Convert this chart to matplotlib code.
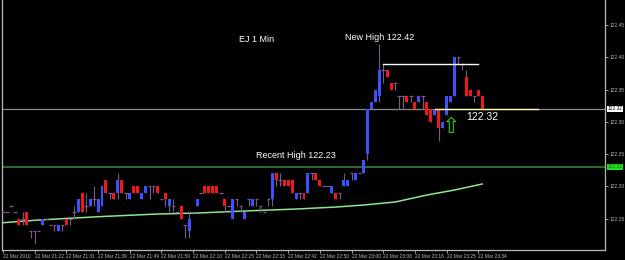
import matplotlib
matplotlib.use("Agg")
import matplotlib.pyplot as plt
import numpy as np

# 1-minute EURJPY bars
opens = [122.16, 122.16, 122.17, 122.16, 122.15, 122.15, 122.16, 122.13, 122.13, 122.13,
         122.14, 122.15, 122.14, 122.14, 122.13, 122.14, 122.15, 122.15, 122.16, 122.16,
         122.19, 122.17, 122.17, 122.18, 122.16, 122.17, 122.21, 122.19, 122.19, 122.19,
         122.21, 122.19, 122.18, 122.20, 122.20, 122.18, 122.19, 122.20, 122.20, 122.20,
         122.18, 122.19, 122.17, 122.17, 122.16, 122.17, 122.14, 122.13, 122.16, 122.17,
         122.19, 122.20, 122.20, 122.20, 122.20, 122.19, 122.18, 122.17, 122.15, 122.18,
         122.17, 122.15, 122.18, 122.17, 122.18, 122.17, 122.16, 122.18, 122.18, 122.22,
         122.21, 122.21, 122.21, 122.21, 122.18, 122.19, 122.19, 122.19, 122.22, 122.22,
         122.21, 122.20, 122.20, 122.19, 122.19, 122.19, 122.20, 122.20, 122.22, 122.21,
         122.22, 122.22, 122.25, 122.32, 122.33, 122.34, 122.38, 122.38, 122.36, 122.36,
         122.34, 122.34, 122.34, 122.34, 122.33, 122.33, 122.34, 122.33, 122.32, 122.31,
         122.32, 122.29, 122.31, 122.33, 122.34, 122.40, 122.39, 122.37, 122.35, 122.34,
         122.35, 122.34]
highs = [122.16, 122.16, 122.17, 122.16, 122.15, 122.16, 122.16, 122.13, 122.13, 122.13,
         122.15, 122.15, 122.14, 122.14, 122.14, 122.14, 122.15, 122.15, 122.17, 122.18,
         122.19, 122.19, 122.18, 122.20, 122.18, 122.20, 122.21, 122.19, 122.19, 122.22,
         122.21, 122.19, 122.19, 122.20, 122.20, 122.19, 122.20, 122.20, 122.20, 122.20,
         122.18, 122.19, 122.18, 122.18, 122.16, 122.17, 122.14, 122.16, 122.16, 122.18,
         122.19, 122.20, 122.20, 122.20, 122.20, 122.19, 122.18, 122.17, 122.18, 122.18,
         122.17, 122.16, 122.18, 122.18, 122.18, 122.17, 122.16, 122.18, 122.22, 122.22,
         122.22, 122.21, 122.21, 122.21, 122.19, 122.19, 122.19, 122.22, 122.22, 122.22,
         122.21, 122.20, 122.20, 122.20, 122.19, 122.19, 122.22, 122.21, 122.22, 122.22,
         122.22, 122.24, 122.32, 122.33, 122.35, 122.42, 122.39, 122.38, 122.36, 122.36,
         122.34, 122.34, 122.34, 122.34, 122.33, 122.34, 122.34, 122.33, 122.32, 122.32,
         122.32, 122.30, 122.34, 122.34, 122.40, 122.40, 122.39, 122.38, 122.35, 122.34,
         122.35, 122.34]
lows = [122.16, 122.16, 122.17, 122.16, 122.14, 122.14, 122.14, 122.12, 122.11, 122.13,
        122.14, 122.15, 122.14, 122.13, 122.13, 122.13, 122.14, 122.14, 122.15, 122.16,
        122.16, 122.16, 122.17, 122.17, 122.16, 122.17, 122.19, 122.18, 122.18, 122.18,
        122.19, 122.18, 122.18, 122.19, 122.19, 122.18, 122.19, 122.18, 122.19, 122.19,
        122.18, 122.17, 122.16, 122.16, 122.16, 122.15, 122.12, 122.12, 122.16, 122.17,
        122.19, 122.19, 122.19, 122.19, 122.19, 122.19, 122.16, 122.17, 122.15, 122.17,
        122.16, 122.15, 122.17, 122.17, 122.17, 122.16, 122.16, 122.17, 122.17, 122.20,
        122.20, 122.20, 122.20, 122.19, 122.18, 122.18, 122.18, 122.19, 122.21, 122.21,
        122.20, 122.20, 122.20, 122.19, 122.18, 122.18, 122.20, 122.20, 122.21, 122.21,
        122.22, 122.22, 122.24, 122.32, 122.33, 122.33, 122.36, 122.37, 122.35, 122.35,
        122.32, 122.32, 122.33, 122.33, 122.32, 122.33, 122.32, 122.31, 122.30, 122.31,
        122.27, 122.29, 122.31, 122.33, 122.34, 122.39, 122.38, 122.34, 122.34, 122.33,
        122.34, 122.32]
closes = [122.16, 122.16, 122.17, 122.16, 122.14, 122.15, 122.14, 122.13, 122.13, 122.13,
          122.15, 122.15, 122.14, 122.14, 122.14, 122.14, 122.14, 122.15, 122.16, 122.18,
          122.16, 122.17, 122.18, 122.18, 122.18, 122.20, 122.19, 122.19, 122.18, 122.21,
          122.19, 122.19, 122.19, 122.19, 122.19, 122.19, 122.20, 122.20, 122.20, 122.19,
          122.18, 122.18, 122.18, 122.17, 122.16, 122.15, 122.14, 122.15, 122.16, 122.18,
          122.19, 122.19, 122.19, 122.19, 122.19, 122.19, 122.17, 122.17, 122.18, 122.18,
          122.17, 122.16, 122.18, 122.18, 122.18, 122.17, 122.16, 122.18, 122.22, 122.21,
          122.21, 122.20, 122.20, 122.19, 122.19, 122.19, 122.18, 122.22, 122.22, 122.21,
          122.20, 122.20, 122.20, 122.20, 122.18, 122.19, 122.21, 122.21, 122.22, 122.22,
          122.22, 122.24, 122.32, 122.33, 122.35, 122.38, 122.38, 122.37, 122.35, 122.36,
          122.34, 122.34, 122.33, 122.34, 122.32, 122.34, 122.34, 122.31, 122.30, 122.32,
          122.29, 122.30, 122.34, 122.34, 122.40, 122.40, 122.39, 122.34, 122.34, 122.34,
          122.34, 122.32]

# moving average, read at a few bars
ma_bars = [0, 9, 24, 39, 49, 64, 74, 84, 91, 99, 107, 114, 121]
ma_vals = [122.1435, 122.1477, 122.1528, 122.157, 122.1585, 122.1624, 122.1647,
           122.1678, 122.1709, 122.1756, 122.1864, 122.1942, 122.2035]

time_ticks = list(range(0, 121, 8))
time_labels = ["22 Mar 2010", "22 Mar 21:22", "22 Mar 21:31", "22 Mar 21:39",
               "22 Mar 21:49", "22 Mar 21:59", "22 Mar 22:10", "22 Mar 22:25",
               "22 Mar 22:33", "22 Mar 22:42", "22 Mar 22:50", "22 Mar 23:00",
               "22 Mar 23:08", "22 Mar 23:16", "22 Mar 23:25", "22 Mar 23:34"]
price_ticks = [122.15, 122.20, 122.25, 122.30, 122.35, 122.40, 122.45]

bid = 122.32
recent_high = 122.23
new_high_line = 122.39

BLUE = "#3d52ff"
RED = "#f01818"
WICK = "#7c5a90"
GRAY = "#b8b8b8"

plt.rcParams["font.family"] = ["Liberation Sans", "DejaVu Sans"]

fig = plt.figure(figsize=(6.25, 2.6), dpi=100, facecolor="black")
ax = fig.add_axes([2 / 625, 10 / 260, 603 / 625, 250 / 260])
ax.set_facecolor("black")

ax.set_xlim(-0.25, 152.0)
ax.set_ylim(122.1012, 122.4888)

# horizontal levels
ax.axhline(bid, color="#8a8a8a", lw=0.9, zorder=1)
ax.axhline(recent_high, color="#2f6a2f", lw=1.4, zorder=1)

# moving average
ax.plot(ma_bars, ma_vals, color="#8ee68e", lw=1.1, zorder=2)

# candles
x = np.arange(len(opens))
o = np.array(opens); h = np.array(highs); l = np.array(lows); c = np.array(closes)
up = c > o
dn = c < o
dj = c == o
ax.vlines(x, l, h, color=WICK, lw=0.8, zorder=3)
ax.bar(x[up], (c - o)[up], bottom=o[up], width=0.75, color=BLUE, zorder=4)
ax.bar(x[dn], (o - c)[dn], bottom=c[dn], width=0.75, color=RED, zorder=4)
ax.hlines(o[dj], x[dj] - 0.45, x[dj] + 0.45, color=WICK, lw=0.9, zorder=4)

# trend lines
ax.plot([96, 120], [new_high_line, new_high_line], color="white", lw=1.0, zorder=5)
ax.plot([109, 135], [bid, bid], color="#fff6b0", lw=1.0, zorder=5)

# annotations
ax.text(64, 122.428, "EJ 1 Min", color="white", fontsize=6.5, ha="center", va="center")
ax.text(95, 122.431, "New High 122.42", color="white", fontsize=6.5, ha="center", va="center")
ax.text(74, 122.247, "Recent High 122.23", color="white", fontsize=6.5, ha="center", va="center")
ax.text(121, 122.307, "122.32", color="white", fontsize=7.5, ha="center", va="center")
ax.text(113, 122.292, "\u21e7", color="#22d022", fontsize=16, ha="center", va="center",
        family="DejaVu Sans", zorder=6)

# axes styling
ax.spines["top"].set_visible(False)
for side in ["left", "right", "bottom"]:
    ax.spines[side].set_color(GRAY)
    ax.spines[side].set_linewidth(0.9)

ax.yaxis.tick_right()
ax.set_yticks(price_ticks)
ax.set_yticklabels([f"{p:.2f}" for p in price_ticks])
ax.tick_params(axis="y", colors=GRAY, labelsize=3.5, length=2.0, width=0.6, pad=1.0)

ax.set_xticks(time_ticks)
ax.set_xticklabels(time_labels)
ax.tick_params(axis="x", colors=GRAY, labelsize=3.5, length=2.0, width=0.6, pad=0.8)
for lab in ax.get_xticklabels():
    lab.set_horizontalalignment("left")

# price boxes on the scale
ax.text(1.004, bid, "122.32", transform=ax.get_yaxis_transform(), fontsize=3.5,
        color="black", va="center", ha="left",
        bbox=dict(boxstyle="square,pad=0.15", fc="white", ec="none"))
ax.text(1.004, recent_high, "122.23", transform=ax.get_yaxis_transform(), fontsize=3.5,
        color="#1a6a1a", va="center", ha="left",
        bbox=dict(boxstyle="square,pad=0.15", fc="#1fe01f", ec="none"))

fig.savefig("out.png", dpi=100, facecolor="black")
